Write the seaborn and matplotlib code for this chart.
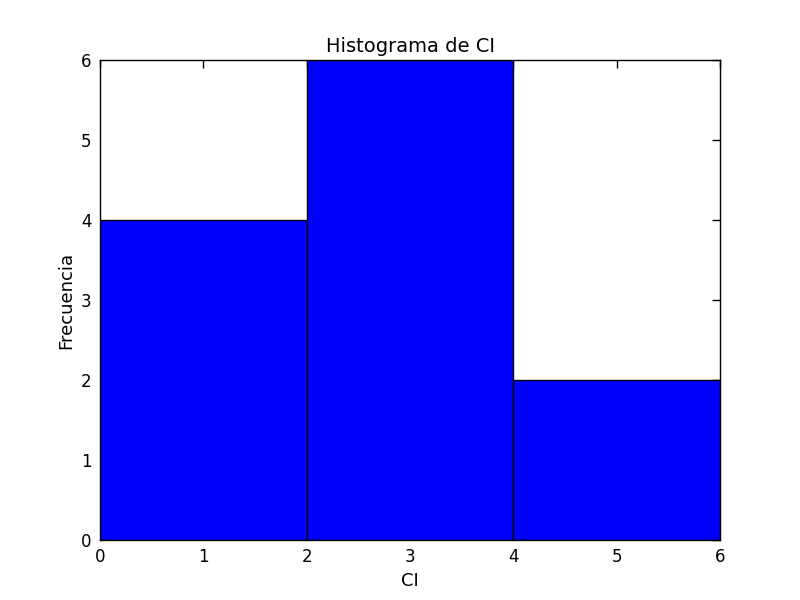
import matplotlib
matplotlib.use('Agg')
import matplotlib.pyplot as plt
import seaborn as sns

# Histogram values
bin_edges = [0, 2, 4, 6]
bin_centers = [1, 3, 5]
counts = [4, 6, 2]

sns.set_style('white')
plt.rcParams['font.family'] = ['DejaVu Sans']
plt.rcParams['text.color'] = 'black'
plt.rcParams['axes.labelcolor'] = 'black'
plt.rcParams['xtick.color'] = 'black'
plt.rcParams['ytick.color'] = 'black'

fig, ax = plt.subplots(figsize=(8, 6), dpi=100)
fig.subplots_adjust(left=0.125, right=0.9, bottom=0.1, top=0.9)

sns.histplot(x=bin_centers, weights=counts, bins=bin_edges, ax=ax,
             color='#0000ff', alpha=1.0, edgecolor='black', linewidth=1.0)

ax.set_xlim(0, 6)
ax.set_ylim(0, 6)
ax.set_xticks(range(0, 7))
ax.set_yticks(range(0, 7))
ax.set_title('Histograma de CI', fontsize=14, color='black')
ax.set_xlabel('CI', fontsize=13)
ax.set_ylabel('Frecuencia', fontsize=13)
ax.tick_params(direction='in', top=True, right=True, length=6, width=1,
               labelsize=12, pad=6, colors='black')
for s in ax.spines.values():
    s.set_color('black')
    s.set_linewidth(1.0)

plt.savefig('out.png', dpi=100)
